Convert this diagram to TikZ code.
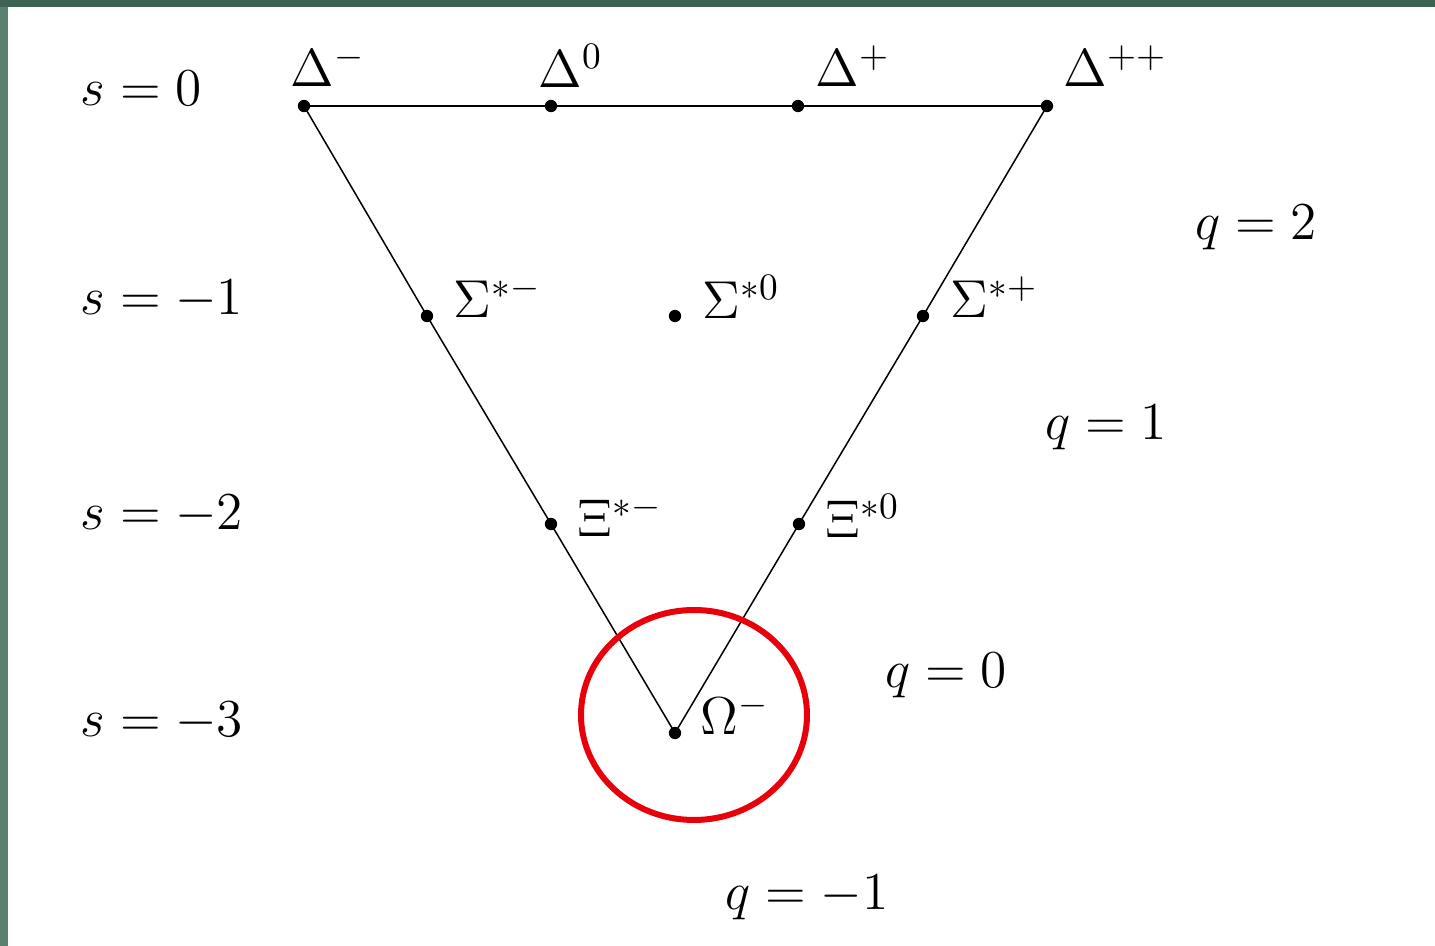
\documentclass[tikz,border=0pt]{standalone}
\usepackage{fix-cm}
\begin{document}
\begin{tikzpicture}[x=0.3pt,y=-0.3pt,
  particle/.style={circle,fill=black,inner sep=0pt,minimum size=3.7pt},
  lbl/.style={anchor=west,inner sep=0pt,font=\fontsize{16}{19}\selectfont},
  axis/.style={anchor=west,inner sep=0pt,font=\fontsize{16}{19}\selectfont},
  edge/.style={draw=black,line width=0.45pt}]
\definecolor{barleft}{HTML}{5A8070}
\definecolor{bartop}{HTML}{3D6352}
\definecolor{ringred}{HTML}{E8000B}
\useasboundingbox (0,0) rectangle (1435,946);
\fill[barleft] (0,0) rectangle (1435,946);
\fill[bartop] (0,0) rectangle (1435,7);
\fill[white] (8,7) rectangle (1435,946);
% particles
\node[particle] (dm) at (304,106) {};
\node[particle] (d0) at (551,106) {};
\node[particle] (dp) at (798,106) {};
\node[particle] (dpp) at (1047,106) {};
\node[particle] (sm) at (427,316) {};
\node[particle] (s0) at (675,316) {};
\node[particle] (sp) at (923,316) {};
\node[particle] (xm) at (551,524) {};
\node[particle] (x0) at (799,524) {};
\node[particle] (om) at (675,733) {};
% edges
\draw[edge] (dm.center) -- (d0.center) -- (dp.center) -- (dpp.center);
\draw[edge] (dm.center) -- (sm.center) -- (xm.center) -- (om.center);
\draw[edge] (dpp.center) -- (sp.center) -- (x0.center) -- (om.center);
% particle labels
\node[lbl] (ldm) at (290,66) {$\Delta^-$};
\node[lbl] (ld0) at (538,66) {$\Delta^0$};
\node[lbl] (ldp) at (815,66) {$\Delta^+$};
\node[lbl] (ldpp) at (1063,66) {$\Delta^{++}$};
\node[lbl] (lsm) at (453,297) {$\Sigma^{*-}$};
\node[lbl] (ls0) at (702,297) {$\Sigma^{*0}$};
\node[lbl] (lsp) at (950,297) {$\Sigma^{*+}$};
\node[lbl] (lxm) at (577,516) {$\Xi^{*-}$};
\node[lbl] (lx0) at (825,516) {$\Xi^{*0}$};
\node[lbl] (lom) at (700,714) {$\Omega^-$};
% strangeness labels
\node[axis] (s0l) at (80,88) {$s=0$};
\node[axis] (s1l) at (80,300) {$s=-1$};
\node[axis] (s2l) at (80,515) {$s=-2$};
\node[axis] (s3l) at (80,722) {$s=-3$};
% charge labels
\node[axis] (q2l) at (1195,228) {$q=2$};
\node[axis] (q1l) at (1045,428) {$q=1$};
\node[axis] (q0l) at (885,676) {$q=0$};
\node[axis] (qm1l) at (725,898) {$q=-1$};
% highlight ring
\draw[ringred,line width=1.8pt] (694,715) ellipse [x radius=113, y radius=105];
\end{tikzpicture}
\end{document}
